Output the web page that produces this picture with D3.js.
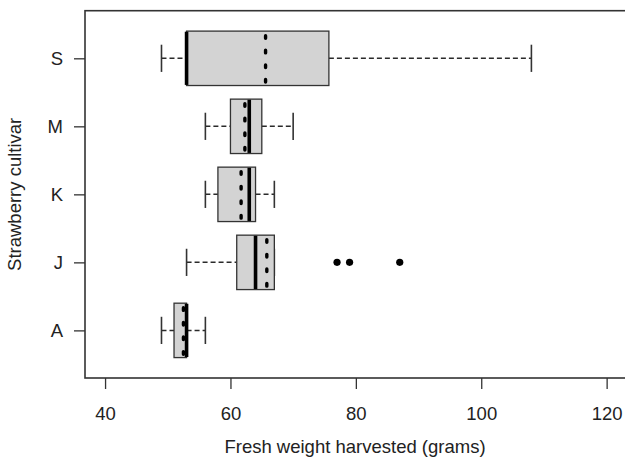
<!DOCTYPE html>
<html>
<head>
<meta charset="utf-8">
<script src="https://cdn.jsdelivr.net/npm/d3@7"></script>
<style>
  body { margin: 0; background: #fff; }
  svg { display: block; font-family: "Liberation Sans", Arial, sans-serif; }
</style>
</head>
<body>
<div class="chart-wrapper"></div>
<script>
// cultivars, bottom to top
const cultivars = ['A', 'J', 'K', 'M', 'S'];
const whiskerLow = [49, 53, 56, 56, 49];
const q1 = [51, 61, 58, 60, 53];
const medians = [53, 64, 63, 63, 53];
const q3 = [53, 67, 64, 65, 75.7];
const whiskerHigh = [56, 67, 67, 70, 108];
const means = [52.5, 65.8, 61.7, 62.3, 65.6];
const outliers = [[], [77, 79, 87], [], [], []];
const xTicks = [40, 60, 80, 100, 120];

const width = 625, height = 461;
const margin = { top: 10.7, right: -1.7, bottom: 83, left: 85 };
const fontSize = '18.5px';

const svg = d3.select('.chart-wrapper')
  .append('svg')
  .attr('width', width)
  .attr('height', height);

const x = d3.scaleLinear()
  .domain([36.8, 123.2])
  .range([margin.left, width - margin.right]);

const y = d3.scalePoint()
  .domain(cultivars)
  .range([height - margin.bottom, margin.top])
  .padding(0.7);

const step = y.step();
const boxHalf = step * 0.4;
const capHalf = step * 0.2;

const data = cultivars.map((c, i) => ({
  name: c,
  lo: whiskerLow[i], q1: q1[i], med: medians[i], q3: q3[i], hi: whiskerHigh[i],
  mean: means[i], out: outliers[i]
}));

const ink = '#333';

// boxes
const g = svg.append('g').attr('class', 'boxes');
const box = g.selectAll('g.box')
  .data(data)
  .enter()
  .append('g')
  .attr('class', 'box');

// whiskers (dashed)
box.append('line')
  .attr('x1', d => x(d.lo)).attr('x2', d => x(d.q1))
  .attr('y1', d => y(d.name)).attr('y2', d => y(d.name))
  .attr('stroke', '#2a2a2a').attr('stroke-width', 1.5)
  .attr('stroke-dasharray', '5 3');

box.filter(d => d.hi > d.q3).append('line')
  .attr('x1', d => x(d.q3)).attr('x2', d => x(d.hi))
  .attr('y1', d => y(d.name)).attr('y2', d => y(d.name))
  .attr('stroke', '#2a2a2a').attr('stroke-width', 1.5)
  .attr('stroke-dasharray', '5 3');

// staples
box.append('line')
  .attr('x1', d => x(d.lo)).attr('x2', d => x(d.lo))
  .attr('y1', d => y(d.name) - capHalf).attr('y2', d => y(d.name) + capHalf)
  .attr('stroke', ink).attr('stroke-width', 1.6);

box.append('line')
  .attr('x1', d => x(d.hi)).attr('x2', d => x(d.hi))
  .attr('y1', d => y(d.name) - capHalf).attr('y2', d => y(d.name) + capHalf)
  .attr('stroke', ink).attr('stroke-width', 1.6);

// box body
box.append('rect')
  .attr('x', d => x(d.q1))
  .attr('y', d => y(d.name) - boxHalf)
  .attr('width', d => x(d.q3) - x(d.q1))
  .attr('height', boxHalf * 2)
  .attr('fill', '#d3d3d3')
  .attr('stroke', ink)
  .attr('stroke-width', 1.3);

// mean (dotted)
box.append('line')
  .attr('x1', d => x(d.mean)).attr('x2', d => x(d.mean))
  .attr('y1', d => y(d.name) - boxHalf).attr('y2', d => y(d.name) + boxHalf)
  .attr('stroke', '#000').attr('stroke-width', 3.4)
  .attr('stroke-linecap', 'round')
  .attr('stroke-dasharray', '2.6 12')
  .attr('stroke-dashoffset', -4.6);

// median
box.append('line')
  .attr('x1', d => x(d.med)).attr('x2', d => x(d.med))
  .attr('y1', d => y(d.name) - boxHalf + 0.6).attr('y2', d => y(d.name) + boxHalf - 0.6)
  .attr('stroke', '#000').attr('stroke-width', 3.6);

// outliers
box.selectAll('circle')
  .data(d => d.out.map(v => ({ v: v, name: d.name })))
  .enter()
  .append('circle')
  .attr('cx', d => x(d.v))
  .attr('cy', d => y(d.name))
  .attr('r', 3.6)
  .attr('fill', '#000');

// frame
svg.append('rect')
  .attr('x', margin.left)
  .attr('y', margin.top)
  .attr('width', x.range()[1] - margin.left)
  .attr('height', height - margin.bottom - margin.top)
  .attr('fill', 'none')
  .attr('stroke', ink)
  .attr('stroke-width', 1.6);

// axes
const xAxis = d3.axisBottom(x).tickValues(xTicks).tickSize(11).tickPadding(18);
const xg = svg.append('g')
  .attr('transform', 'translate(0,' + (height - margin.bottom) + ')')
  .call(xAxis);

const yAxis = d3.axisLeft(y).tickSize(11).tickPadding(11);
const yg = svg.append('g')
  .attr('transform', 'translate(' + margin.left + ',0)')
  .call(yAxis);

[xg, yg].forEach(a => {
  a.select('.domain').remove();
  a.selectAll('.tick line').attr('stroke', ink).attr('stroke-width', 1.3);
  a.selectAll('.tick text')
    .attr('fill', '#222')
    .style('font-size', fontSize)
    .style('font-family', '"Liberation Sans", Arial, sans-serif');
});

// axis titles
svg.append('text')
  .attr('x', 355)
  .attr('y', 453)
  .attr('text-anchor', 'middle')
  .attr('fill', '#222')
  .style('font-size', fontSize)
  .text('Fresh weight harvested (grams)');

svg.append('text')
  .attr('transform', 'translate(21,' + ((margin.top + height - margin.bottom) / 2) + ') rotate(-90)')
  .attr('text-anchor', 'middle')
  .attr('fill', '#222')
  .style('font-size', fontSize)
  .text('Strawberry cultivar');
</script>
</body>
</html>
